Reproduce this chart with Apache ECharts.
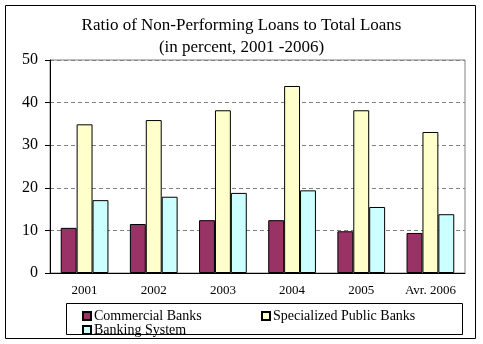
<!DOCTYPE html>
<html><head><meta charset="utf-8">
<script src="https://cdn.jsdelivr.net/npm/echarts@6/dist/echarts.min.js"></script>
<style>html,body{margin:0;padding:0;background:#fff}#c{width:483px;height:344px}</style>
</head><body><div id="c"></div>
<script>
var categories = ['2001','2002','2003','2004','2005','Avr. 2006'];
var commercialBanks = [10.6, 11.5, 12.4, 12.4, 9.8, 9.4];
var specializedPublicBanks = [34.9, 35.9, 38.2, 43.9, 38.2, 33.1];
var bankingSystem = [17.1, 17.9, 18.8, 19.4, 15.5, 13.8];
var yTicks = [0, 10, 20, 30, 40, 50];

var font = 'Liberation Serif';
var chart = echarts.init(document.getElementById('c'), null, {renderer: 'canvas'});
function bar(name, data, color) {
  return {name: name, type: 'bar', data: data, barGap: '0%', barCategoryGap: '31%',
    itemStyle: {color: color, borderColor: '#000', borderWidth: 1}};
}
chart.setOption({
  animation: false,
  title: {text: 'Ratio of Non-Performing Loans to Total Loans\n(in percent, 2001 -2006)', left: 'center', top: 10,
    textStyle: {fontFamily: font, fontSize: 17, fontWeight: 'normal', color: '#000', lineHeight: 22}},
  grid: {left: 50, right: 18, top: 60, bottom: 71, show: true, borderColor: '#808080', borderWidth: 1},
  xAxis: {type: 'category', data: categories,
    axisLine: {lineStyle: {color: '#000'}}, axisTick: {length: 5, lineStyle: {color: '#000'}},
    axisLabel: {fontFamily: font, fontSize: 13, color: '#000', margin: 11}},
  yAxis: {type: 'value', min: yTicks[0], max: yTicks[yTicks.length-1], interval: 10,
    axisLine: {show: true, lineStyle: {color: '#000'}}, axisTick: {show: true, length: 5, lineStyle: {color: '#000'}},
    axisLabel: {fontFamily: font, fontSize: 16, color: '#000', margin: 12},
    splitLine: {lineStyle: {color: '#808080', type: [4, 3]}}},
  legend: [
    {data: ['Commercial Banks', 'Banking System'], orient: 'vertical', left: 82, top: 309, itemGap: 0,
      itemWidth: 8, itemHeight: 8, icon: 'rect',
      textStyle: {fontFamily: font, fontSize: 14, color: '#000', lineHeight: 12, padding: [0,0,0,-2]}, padding: 0},
    {data: ['Specialized Public Banks'], orient: 'vertical', left: 261, top: 309, itemGap: 0,
      itemWidth: 8, itemHeight: 8, icon: 'rect',
      textStyle: {fontFamily: font, fontSize: 14, color: '#000', lineHeight: 12, padding: [0,0,0,-2]}, padding: 0}
  ],
  graphic: [
    {type: 'rect', shape: {x: 5.5, y: 5.5, width: 470, height: 333}, style: {fill: 'none', stroke: '#000', lineWidth: 1}, silent: true},
    {type: 'rect', shape: {x: 66.5, y: 303.5, width: 396, height: 31}, style: {fill: 'none', stroke: '#000', lineWidth: 1}, silent: true}
  ],
  series: [
    bar('Commercial Banks', commercialBanks, '#993366'),
    bar('Specialized Public Banks', specializedPublicBanks, '#FFFFCC'),
    bar('Banking System', bankingSystem, '#CCFFFF')
  ]
});
</script></body></html>
